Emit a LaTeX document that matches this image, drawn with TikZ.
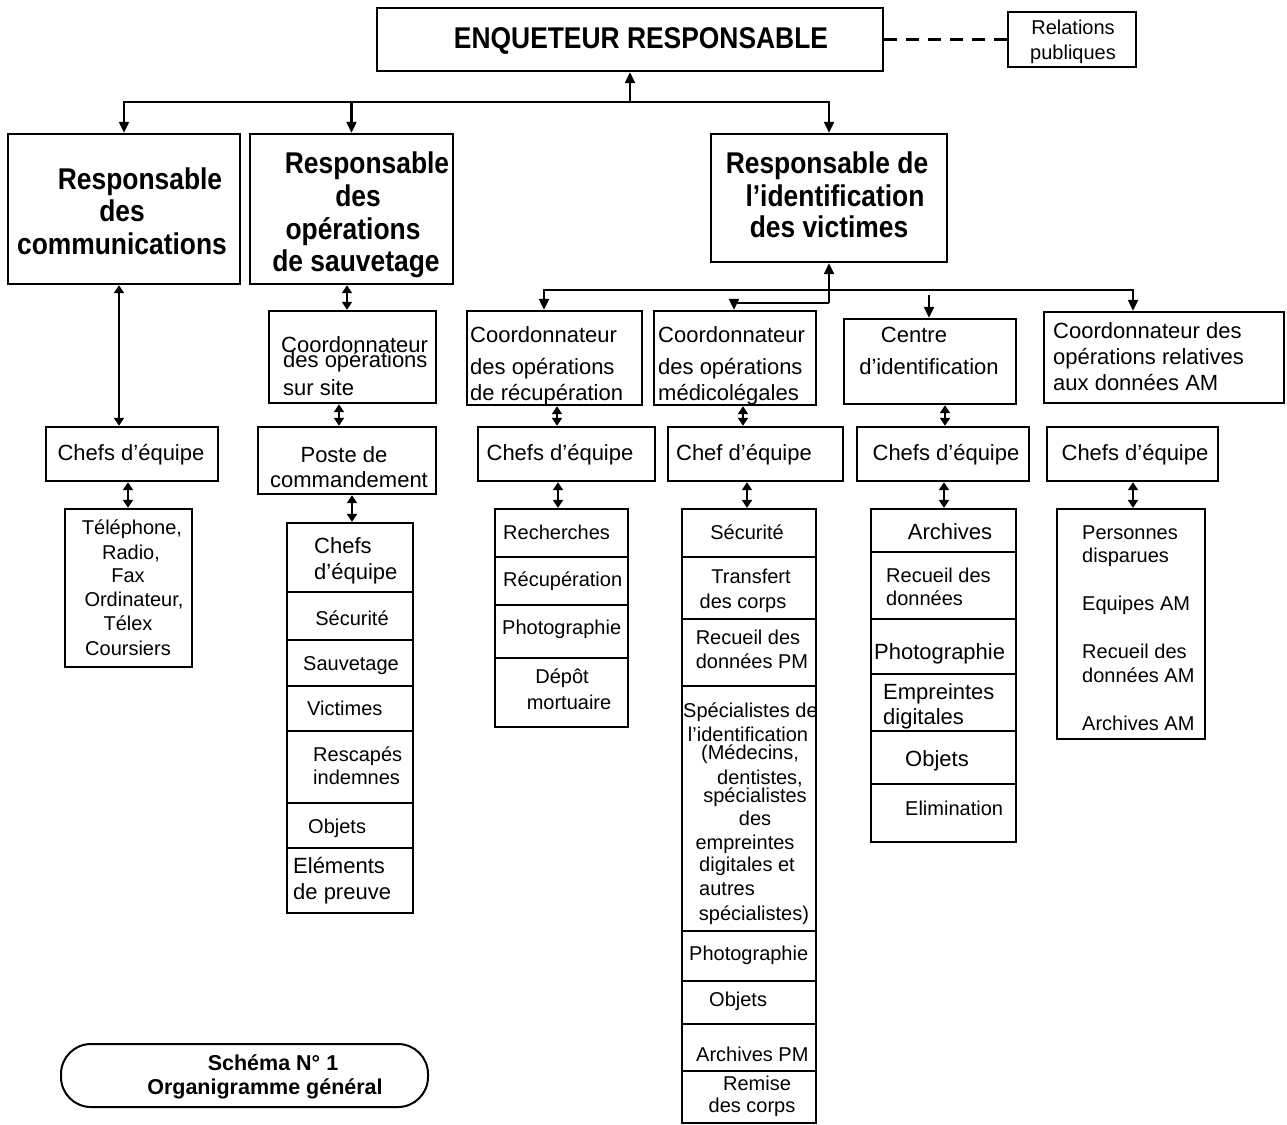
\documentclass[tikz,border=0pt]{standalone}
\usepackage{fontspec}
\setmainfont{Liberation Sans}
\newfontfamily\orgHeadFamily[FakeStretch=0.88]{Liberation Sans}
\usetikzlibrary{arrows.meta,fit}

\newcommand\orgHead{\orgHeadFamily\bfseries\fontsize{30}{34}\selectfont}
\newcommand\orgMid{\fontsize{22}{26}\selectfont}
\newcommand\orgSmall{\fontsize{20}{24}\selectfont}
\newcommand\orgCap{\bfseries\fontsize{21.5}{25}\selectfont}

\tikzset{
  frame/.style={draw, line width=2.4pt, inner sep=0pt},
  cell/.style={draw, line width=2.2pt, inner sep=0pt},
  wire/.style={line width=2.2pt},
  tipped/.style={wire, -{Triangle[length=11pt,width=10pt]}},
  tippedboth/.style={wire, {Triangle[length=11pt,width=10pt]}-{Triangle[length=11pt,width=10pt]}},
  both/.style={wire, {Triangle[length=8pt,width=10pt]}-{Triangle[length=8pt,width=10pt]}},
  hd/.style={font=\orgHead, inner sep=0pt, anchor=mid, yshift=-7pt},
  md/.style={font=\orgMid, inner sep=0pt, anchor=mid, yshift=-5pt},
  sm/.style={font=\orgSmall, inner sep=0pt, anchor=mid, yshift=-5pt},
  cp/.style={font=\orgCap, inner sep=0pt, anchor=mid, yshift=-5pt},
  L/.style={anchor=mid west},
}

\begin{document}
\begin{tikzpicture}[x=1pt, y=-1pt]
\path[fill=white] (0,0) rectangle (1287,1124);
\useasboundingbox (0,0) rectangle (1287,1124);

% ---------- top level ----------
\node[frame, fit={(377,8) (883,71)}] (enq) {};
\node[frame, fit={(1008,12) (1136,67)}] (rel) {};
\node[hd] (t-enq) at (641,39) {ENQUETEUR RESPONSABLE};
\node[sm] (t-rel1) at (1073,27) {Relations};
\node[sm] (t-rel2) at (1073,52) {publiques};
\draw[wire, dash pattern=on 13pt off 9pt] (enq.east) -- (rel.west);

\node[frame, fit={(8,134) (240,284)}] (comm) {};
\node[frame, fit={(250,134) (453,284)}] (sauv) {};
\node[frame, fit={(711,134) (947,262)}] (vict) {};

\node[hd] (t-comm1) at (140,180) {Responsable};
\node[hd] (t-comm2) at (122,212) {des};
\node[hd] (t-comm3) at (122,245) {communications};
\node[hd] (t-sauv1) at (367,164) {Responsable};
\node[hd] (t-sauv2) at (358,197) {des};
\node[hd] (t-sauv3) at (353,230) {opérations};
\node[hd] (t-sauv4) at (356,262) {de sauvetage};
\node[hd] (t-vict1) at (827,164) {Responsable de};
\node[hd] (t-vict2) at (835,197) {l’identification};
\node[hd] (t-vict3) at (829,228) {des victimes};

\coordinate (bus) at (630,102);
\draw[tipped] (bus) -- (enq.south);
\draw[tippedboth] (comm.north) -- (comm.north |- bus) -- (vict.north |- bus) -- (vict.north);
\draw[tipped] (sauv.north |- bus) -- (sauv.north);

% ---------- communications ----------
\node[frame, fit={(46,427) (218,481)}] (cchef) {};
\node[md] (t-cchef) at (131,453) {Chefs d’équipe};
\node[frame, fit={(65,509) (192,667)}] (tel) {};
\node[sm] (t-tel1) at (132,527) {Téléphone,};
\node[sm] (t-tel2) at (131,552) {Radio,};
\node[sm] (t-tel3) at (128,575) {Fax};
\node[sm] (t-tel4) at (134,599) {Ordinateur,};
\node[sm] (t-tel5) at (128,623) {Télex};
\node[sm] (t-tel6) at (128,648) {Coursiers};
\draw[both] (comm.south -| 119,0) -- (cchef.north -| 119,0);
\draw[both] (cchef.south -| 128,0) -- (tel.north -| 128,0);

% ---------- sauvetage ----------
\node[frame, fit={(269,311) (436,403)}] (scoord) {};
\node[md, L] (t-sc1) at (281,345) {Coordonnateur};
\node[md, L] (t-sc2) at (283,360) {des opérations};
\node[md, L] (t-sc3) at (283,388) {sur site};
\node[frame, fit={(258,427) (436,494)}] (poste) {};
\node[md] (t-po1) at (344,455) {Poste de};
\node[md] (t-po2) at (349,480) {commandement};

\node[cell, fit={(287,523) (413,592)}] (s1) {};
\node[cell, fit={(287,592) (413,640)}] (s2) {};
\node[cell, fit={(287,640) (413,686)}] (s3) {};
\node[cell, fit={(287,686) (413,731)}] (s4) {};
\node[cell, fit={(287,731) (413,803)}] (s5) {};
\node[cell, fit={(287,803) (413,848)}] (s6) {};
\node[cell, fit={(287,848) (413,913)}] (s7) {};
\node[md, L] (t-s1a) at (314,546) {Chefs};
\node[md, L] (t-s1b) at (314,572) {d’équipe};
\node[sm] (t-s2) at (352,618) {Sécurité};
\node[sm] (t-s3) at (351,663) {Sauvetage};
\node[sm, L] (t-s4) at (307,708) {Victimes};
\node[sm, L] (t-s5a) at (313,754) {Rescapés};
\node[sm, L] (t-s5b) at (313,777) {indemnes};
\node[sm, L] (t-s6) at (308,826) {Objets};
\node[md, L] (t-s7a) at (293,866) {Eléments};
\node[md, L] (t-s7b) at (293,892) {de preuve};

\draw[both] (sauv.south -| 347,0) -- (scoord.north -| 347,0);
\draw[both] (scoord.south -| 339,0) -- (poste.north -| 339,0);
\draw[both] (poste.south -| 352,0) -- (s1.north -| 352,0);

% ---------- identification des victimes ----------
\node[frame, fit={(467,311) (642,405)}] (rcoord) {};
\node[frame, fit={(654,311) (816,405)}] (mcoord) {};
\node[frame, fit={(844,319) (1016,404)}] (ccent) {};
\node[frame, fit={(1044,312) (1284,403)}] (amc) {};

\node[md, L] (t-rc1) at (470,335) {Coordonnateur};
\node[md, L] (t-rc2) at (470,367) {des opérations};
\node[md, L] (t-rc3) at (470,393) {de récupération};
\node[md, L] (t-mc1) at (658,335) {Coordonnateur};
\node[md, L] (t-mc2) at (658,367) {des opérations};
\node[md, L] (t-mc3) at (658,393) {médicolégales};
\node[md] (t-cc1) at (914,335) {Centre};
\node[md] (t-cc2) at (929,367) {d’identification};
\node[md, L] (t-am1) at (1053,331) {Coordonnateur des};
\node[md, L] (t-am2) at (1053,357) {opérations relatives};
\node[md, L] (t-am3) at (1053,383) {aux données AM};

\coordinate (vj) at (829,303);
\coordinate (vbl) at (544,290);
\coordinate (vbr) at (1133,290);
\coordinate (cj) at (929,295);
\draw[tipped] (vj) -- (vict.south);
\draw[tippedboth] (vbl |- rcoord.north) -- (vbl) -- (vbr) -- (vbr |- amc.north);
\draw[tipped] (vj) -| (734,0 |- mcoord.north);
\draw[tipped] (cj) -- (cj |- ccent.north);

\node[frame, fit={(478,427) (655,481)}] (rchef) {};
\node[frame, fit={(668,427) (843,481)}] (mchef) {};
\node[frame, fit={(857,427) (1029,481)}] (cchef2) {};
\node[frame, fit={(1047,427) (1218,481)}] (achef) {};
\node[md] (t-rchef) at (560,453) {Chefs d’équipe};
\node[md] (t-mchef) at (744,453) {Chef d’équipe};
\node[md] (t-cchef2) at (946,453) {Chefs d’équipe};
\node[md] (t-achef) at (1135,453) {Chefs d’équipe};

\draw[both] (rcoord.south -| 557,0) -- (rchef.north -| 557,0);
\draw[both] (mcoord.south -| 743,0) -- (mchef.north -| 743,0);
\draw[both] (ccent.south -| 945,0) -- (cchef2.north -| 945,0);

% recovery tasks
\node[cell, fit={(495,509) (628,557)}] (r1) {};
\node[cell, fit={(495,557) (628,605)}] (r2) {};
\node[cell, fit={(495,605) (628,658)}] (r3) {};
\node[cell, fit={(495,658) (628,727)}] (r4) {};
\node[sm, L] (t-r1) at (503,532) {Recherches};
\node[sm, L] (t-r2) at (503,579) {Récupération};
\node[sm, L] (t-r3) at (502,627) {Photographie};
\node[sm] (t-r4a) at (562,676) {Dépôt};
\node[sm] (t-r4b) at (569,702) {mortuaire};
\draw[both] (rchef.south -| 558,0) -- (r1.north -| 558,0);

% forensic tasks
\node[cell, fit={(682,509) (816,557)}] (m1) {};
\node[cell, fit={(682,557) (816,619)}] (m2) {};
\node[cell, fit={(682,619) (816,686)}] (m3) {};
\node[cell, fit={(682,686) (816,931)}] (m4) {};
\node[cell, fit={(682,931) (816,981)}] (m5) {};
\node[cell, fit={(682,981) (816,1024)}] (m6) {};
\node[cell, fit={(682,1024) (816,1071)}] (m7) {};
\node[cell, fit={(682,1071) (816,1123)}] (m8) {};
\node[sm] (t-m1) at (747,532) {Sécurité};
\node[sm] (t-m2a) at (751,576) {Transfert};
\node[sm] (t-m2b) at (743,601) {des corps};
\node[sm] (t-m3a) at (748,637) {Recueil des};
\node[sm] (t-m3b) at (752,661) {données PM};
\node[sm, L] (t-m4a) at (683,710) {Spécialistes de};
\node[sm] (t-m4b) at (748,734) {l’identification};
\node[sm] (t-m4c) at (750,752) {(Médecins,};
\node[sm] (t-m4d) at (760,777) {dentistes,};
\node[sm] (t-m4e) at (755,795) {spécialistes};
\node[sm] (t-m4f) at (755,818) {des};
\node[sm] (t-m4g) at (745,842) {empreintes};
\node[sm] (t-m4h) at (747,864) {digitales et};
\node[sm, L] (t-m4i) at (699,888) {autres};
\node[sm] (t-m4j) at (754,913) {spécialistes)};
\node[sm, L] (t-m5) at (689,953) {Photographie};
\node[sm, L] (t-m6) at (709,999) {Objets};
\node[sm, L] (t-m7) at (696,1054) {Archives PM};
\node[sm] (t-m8a) at (757,1083) {Remise};
\node[sm] (t-m8b) at (752,1105) {des corps};
\draw[both] (mchef.south -| 747,0) -- (m1.north -| 747,0);

% identification centre tasks
\node[cell, fit={(871,509) (1016,552)}] (c1) {};
\node[cell, fit={(871,552) (1016,619)}] (c2) {};
\node[cell, fit={(871,619) (1016,674)}] (c3) {};
\node[cell, fit={(871,674) (1016,731)}] (c4) {};
\node[cell, fit={(871,731) (1016,784)}] (c5) {};
\node[cell, fit={(871,784) (1016,842)}] (c6) {};
\node[md] (t-c1) at (950,532) {Archives};
\node[sm, L] (t-c2a) at (886,575) {Recueil des};
\node[sm, L] (t-c2b) at (886,598) {données};
\node[md, L] (t-c3) at (874,652) {Photographie};
\node[md, L] (t-c4a) at (883,692) {Empreintes};
\node[md, L] (t-c4b) at (883,717) {digitales};
\node[md, L] (t-c5) at (905,759) {Objets};
\node[sm, L] (t-c6) at (905,808) {Elimination};
\draw[both] (cchef2.south -| 944,0) -- (c1.north -| 944,0);

% ante-mortem tasks
\node[cell, fit={(1057,509) (1205,739)}] (alist) {};
\node[sm, L] (t-a1) at (1082,532) {Personnes};
\node[sm, L] (t-a2) at (1082,555) {disparues};
\node[sm, L] (t-a3) at (1082,603) {Equipes AM};
\node[sm, L] (t-a4) at (1082,651) {Recueil des};
\node[sm, L] (t-a5) at (1082,675) {données AM};
\node[sm, L] (t-a6) at (1082,723) {Archives AM};
\draw[both] (achef.south -| 1133,0) -- (alist.north -| 1133,0);

% ---------- caption ----------
\node[draw, line width=2pt, inner sep=0pt, rounded corners=30pt, fit={(61,1044) (428,1107)}] (cap) {};
\node[cp] (t-cap1) at (273,1063) {Schéma N° 1};
\node[cp] (t-cap2) at (265,1087) {Organigramme général};
\end{tikzpicture}
\end{document}
